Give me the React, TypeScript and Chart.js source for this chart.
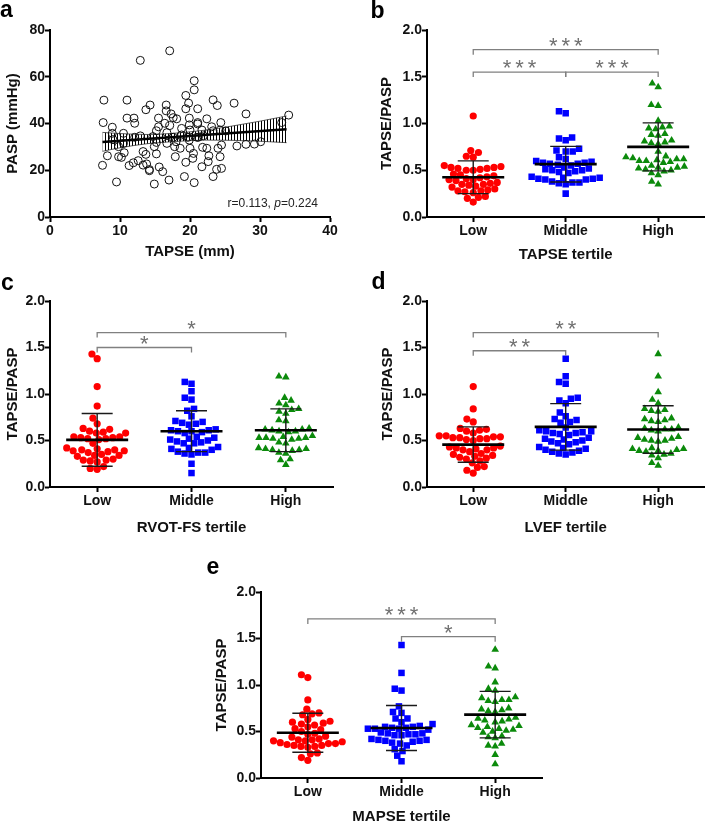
import React, { useEffect, useRef } from 'react';
import { Chart, registerables } from 'chart.js';
Chart.register(...registerables);

const FONT = '"Liberation Sans", Arial, Helvetica, sans-serif';
Chart.defaults.font.family = FONT;

// ---------- Panel a: TAPSE vs PASP ----------
const tapseMm = [17.1, 12.9, 7.7, 11.0, 19.4, 20.6, 20.6, 26.3, 23.3, 23.9,
  14.3, 16.6, 13.7, 19.8, 16.6, 21.1, 19.4, 28.0, 7.6, 11.0,
  12.0, 12.1, 15.5, 17.3, 17.6, 18.1, 19.9, 19.9, 21.1, 21.1,
  22.4, 24.4, 8.9, 16.4, 17.1, 15.5, 18.8, 20.0, 21.7, 23.1,
  23.3, 24.3, 25.1, 33.1, 34.1, 8.9, 10.5, 12.9, 14.7, 15.2,
  16.7, 17.6, 18.8, 19.7, 21.0, 21.9, 26.7, 28.0, 29.2, 30.1,
  9.0, 10.5, 12.1, 15.2, 16.7, 18.0, 19.9, 21.2, 21.8, 22.4,
  24.0, 24.5, 9.8, 10.6, 13.3, 14.9, 15.2, 17.8, 18.6, 20.0,
  20.5, 9.8, 10.2, 8.2, 13.7, 17.9, 20.4, 22.7, 24.3, 7.5,
  11.3, 11.9, 12.6, 13.3, 13.8, 14.2, 14.2, 15.6, 16.1, 19.4,
  21.7, 22.6, 23.8, 24.5, 9.5, 14.9, 17.0, 19.2, 20.6, 23.3];
const paspMmHg = [71.1, 67, 50, 50, 52, 58.3, 54.4, 48.7, 50.1, 47.7,
  47.9, 47.9, 45.9, 48.7, 45.4, 46.3, 46.3, 44.1, 40.4, 42.3,
  42.3, 40.1, 42.3, 44.1, 42.5, 42, 42.3, 39.4, 40.4, 39.8,
  42, 40.4, 38.4, 40.1, 39.1, 38.6, 37.9, 37.2, 37.2, 38.6,
  36.9, 37.2, 36.8, 40.4, 43.6, 35.8, 35.8, 34.7, 34.4, 36.9,
  36.1, 34.1, 35.1, 34.1, 34.1, 34.7, 30.4, 31.1, 31.2, 32.2,
  33.1, 31.5, 34.1, 31.9, 31.5, 32.2, 32.9, 34.1, 29.8, 29.4,
  29.4, 30.8, 30.1, 27.5, 28, 30.1, 27, 30.1, 29.4, 29.4,
  27.2, 25.8, 25.5, 26.2, 26.8, 25.8, 25.1, 26.2, 25.8, 22.1,
  22, 23.2, 24.1, 22.2, 22.7, 20.3, 19.8, 21.4, 19.4, 23.4,
  21.5, 23.7, 20.4, 20.8, 15, 14.1, 15.8, 17.3, 14.7, 17.3];
const fitX = [7.5, 33.8];
const fitY = [32.1, 37.5];
const bandX = [7.5, 10, 14, 18, 22, 26, 30, 33.8];
const bandUpper = [36.2, 35.7, 35.3, 35.9, 37.1, 38.9, 41.0, 43.2];
const bandLower = [28.1, 29.6, 31.4, 32.3, 32.9, 32.8, 32.4, 31.8];
const aXTicks = [0, 10, 20, 30, 40];
const aYTicks = [0, 20, 40, 60, 80];

// ---------- Tertile panels ----------
const tertileLabels = ['Low', 'Middle', 'High'];
const yTicksRatio = [0, 0.5, 1.0, 1.5, 2.0];

// b: TAPSE tertile
const bLow = [1.08, 0.71, 0.69, 0.65, 0.64, 0.55, 0.54, 0.53, 0.53, 0.52, 0.52, 0.51, 0.50, 0.50,
  0.46, 0.45, 0.44, 0.43, 0.42, 0.41, 0.40, 0.40, 0.39, 0.37, 0.36, 0.35, 0.35, 0.34, 0.33, 0.32,
  0.30, 0.29, 0.28, 0.28, 0.27, 0.26, 0.22, 0.21, 0.20, 0.16];
const bMiddle = [1.13, 1.11, 0.85, 0.84, 0.82, 0.73, 0.71, 0.70, 0.70, 0.64, 0.62,
  0.60, 0.59, 0.58, 0.58, 0.57, 0.57, 0.56, 0.55, 0.53, 0.52, 0.51, 0.50, 0.50, 0.49, 0.48, 0.47,
  0.43, 0.42, 0.42, 0.41, 0.41, 0.40, 0.40, 0.38, 0.37, 0.37, 0.36, 0.35, 0.25];
const bHigh = [1.43, 1.39, 1.20, 1.19, 1.03, 0.97, 0.96, 0.95, 0.94, 0.89, 0.88, 0.87,
  0.82, 0.81, 0.80, 0.79, 0.78, 0.70, 0.65, 0.64, 0.63, 0.62, 0.62, 0.61, 0.60, 0.60, 0.59, 0.58,
  0.55, 0.54, 0.53, 0.53, 0.52, 0.51, 0.50, 0.49, 0.47, 0.45, 0.38, 0.35];
const bMeans = [0.425, 0.565, 0.75];
const bSDs = [0.175, 0.19, 0.257];
const bBrackets = [[0, 2, 1.79, 3], [0, 1, 1.55, 3], [1, 2, 1.55, 3]];

// c: RVOT-FS tertile
const cLow = [1.43, 1.38, 1.08, 0.87, 0.74, 0.68, 0.63, 0.62, 0.60, 0.59, 0.58, 0.58,
  0.54, 0.54, 0.53, 0.53, 0.52, 0.52, 0.51, 0.47, 0.42, 0.41, 0.40, 0.40, 0.39, 0.39, 0.38, 0.37,
  0.35, 0.34, 0.34, 0.33, 0.30, 0.29, 0.29, 0.28, 0.27, 0.22, 0.20, 0.19];
const cMiddle = [1.13, 1.11, 1.03, 0.96, 0.94, 0.84, 0.82, 0.76, 0.71, 0.70, 0.69, 0.68, 0.67,
  0.62, 0.61, 0.61, 0.60, 0.60, 0.59, 0.58, 0.54, 0.53, 0.52, 0.51, 0.50, 0.49, 0.48, 0.47, 0.47,
  0.43, 0.42, 0.41, 0.40, 0.38, 0.37, 0.37, 0.36, 0.35, 0.25, 0.15];
const cHigh = [1.19, 1.18, 0.96, 0.93, 0.90, 0.88, 0.84, 0.83, 0.81, 0.79, 0.72, 0.71,
  0.63, 0.62, 0.62, 0.61, 0.60, 0.60, 0.59, 0.55, 0.54, 0.53, 0.53, 0.53, 0.52, 0.52, 0.51,
  0.48, 0.47, 0.42, 0.41, 0.41, 0.40, 0.40, 0.39, 0.37, 0.36, 0.30, 0.29, 0.24];
const cMeans = [0.507, 0.60, 0.61];
const cSDs = [0.284, 0.22, 0.23];
const cBrackets = [[0, 2, 1.66, 1], [0, 1, 1.50, 1]];

// d: LVEF tertile
const dLow = [1.08, 0.84, 0.73, 0.70, 0.63, 0.62, 0.61, 0.60, 0.58,
  0.55, 0.55, 0.54, 0.54, 0.53, 0.53, 0.52, 0.52, 0.51, 0.50,
  0.44, 0.43, 0.42, 0.42, 0.41, 0.40, 0.40, 0.38,
  0.36, 0.35, 0.34, 0.33, 0.32, 0.31, 0.30, 0.28, 0.26, 0.22, 0.21, 0.18, 0.15];
const dMiddle = [1.38, 1.19, 1.13, 1.11, 0.96, 0.95, 0.93, 0.90, 0.80, 0.76, 0.73, 0.72, 0.70, 0.69, 0.64,
  0.61, 0.60, 0.60, 0.59, 0.58, 0.58, 0.57, 0.56, 0.53, 0.52, 0.51, 0.50, 0.49, 0.48, 0.47, 0.46,
  0.43, 0.42, 0.41, 0.40, 0.39, 0.38, 0.37, 0.36, 0.35];
const dHigh = [1.43, 1.19, 1.02, 0.94, 0.90, 0.84, 0.83, 0.82, 0.81, 0.74, 0.73, 0.72, 0.71, 0.70,
  0.64, 0.63, 0.62, 0.62, 0.61, 0.60, 0.54, 0.53, 0.52, 0.51, 0.50, 0.50, 0.49,
  0.42, 0.41, 0.41, 0.40, 0.39, 0.39, 0.38, 0.36, 0.35, 0.34, 0.31, 0.26, 0.23];
const dMeans = [0.456, 0.646, 0.618];
const dSDs = [0.19, 0.25, 0.255];
const dBrackets = [[0, 2, 1.66, 2], [0, 1, 1.465, 2]];

// e: MAPSE tertile
const eLow = [1.11, 1.08, 0.84, 0.74, 0.70, 0.69, 0.68, 0.63, 0.61, 0.60, 0.59,
  0.58, 0.57, 0.55, 0.53, 0.52, 0.50, 0.48, 0.47, 0.45, 0.44,
  0.42, 0.41, 0.41, 0.40, 0.40, 0.39, 0.38, 0.37, 0.37, 0.36, 0.35, 0.35, 0.34, 0.34, 0.33,
  0.27, 0.26, 0.22, 0.19];
const eMiddle = [1.43, 1.13, 0.96, 0.94, 0.77, 0.71, 0.70, 0.64, 0.64, 0.60, 0.58,
  0.56, 0.55, 0.55, 0.54, 0.54, 0.53, 0.53, 0.53, 0.52, 0.49, 0.48, 0.48, 0.47, 0.47, 0.46, 0.46,
  0.42, 0.41, 0.41, 0.40, 0.40, 0.39, 0.38, 0.37, 0.35, 0.31, 0.29, 0.24, 0.18];
const eHigh = [1.38, 1.20, 1.18, 1.03, 0.96, 0.94, 0.87, 0.86, 0.84, 0.84, 0.83, 0.82,
  0.75, 0.74, 0.73, 0.72, 0.71, 0.65, 0.64, 0.63, 0.62, 0.61, 0.60,
  0.57, 0.56, 0.55, 0.54, 0.53, 0.52, 0.51, 0.50, 0.49, 0.45, 0.44, 0.43, 0.37, 0.35, 0.34, 0.25, 0.15];
const eMeans = [0.487, 0.538, 0.681];
const eSDs = [0.21, 0.242, 0.25];
const eBrackets = [[0, 2, 1.71, 3], [1, 2, 1.52, 1]];

// ---------- styling ----------
const groupColors = ['#ff0000', '#0000ff', '#0b8a0b'];
const groupStyles = ['circle', 'rect', 'triangle'];
const groupRadius = [3.6, 4.6, 4.4];
const tickFont = { family: FONT, size: 14, weight: 'bold' as const };
const titleFont = { family: FONT, size: 15, weight: 'bold' as const, lineHeight: 1 };

function swarm(values: number[], center: number, pxX: number, pxY: number, diam: number) {
  const order = values.map((_, i) => i).sort((a, b) => values[a] - values[b]);
  const placed: { x: number; y: number }[] = [];
  const out: { x: number; y: number }[] = new Array(values.length);
  for (const i of order) {
    const y = values[i] * pxY;
    const iv: [number, number][] = [];
    for (const p of placed) {
      const dy = Math.abs(p.y - y);
      if (dy < diam) {
        const dx = Math.sqrt(diam * diam - dy * dy);
        iv.push([p.x - dx, p.x + dx]);
      }
    }
    const cands = [0];
    iv.forEach(([a, b]) => cands.push(a, b));
    cands.sort((a, b) => Math.abs(a) - Math.abs(b) || a - b);
    let x = 0;
    for (const c of cands) {
      if (iv.every(([a, b]) => c <= a + 1e-6 || c >= b - 1e-6)) { x = c; break; }
    }
    placed.push({ x, y });
    out[i] = { x: center + x / pxX, y: values[i] };
  }
  return out;
}

function axisCommon() {
  return {
    grid: { drawOnChartArea: false, drawTicks: true, tickLength: 5, tickWidth: 2, tickColor: '#000' },
    border: { display: true, color: '#000', width: 2 },
  };
}

type DotCfg = {
  groups: number[][]; means: number[]; sds: number[]; brackets: number[][];
  letter: string; letterX: number; letterY: number; xTitle: string;
  w: number; h: number; top: number; right: number; yW: number; xH: number;
  yTitlePad: number; xTitlePad: number;
};

function drawStar(ctx: CanvasRenderingContext2D, cx: number, cy: number) {
  const m = ctx.measureText('*');
  const asc = m.actualBoundingBoxAscent, desc = m.actualBoundingBoxDescent;
  ctx.fillText('*', cx, cy + (asc - desc) / 2);
}

function buildDot(canvas: HTMLCanvasElement, p: DotCfg): any {
  const areaW = p.w - p.yW - p.right;
  const areaH = p.h - p.top - p.xH;
  const pxX = areaW / 3;
  const pxY = areaH / 2;
  const overlay = {
    id: 'dotOverlay',
    afterDatasetsDraw(chart: any) {
      const ctx = chart.ctx as CanvasRenderingContext2D;
      const xs = chart.scales.x, ys = chart.scales.y;
      ctx.save();
      p.means.forEach((m, g) => {
        const cx = xs.getPixelForValue(g);
        const my = ys.getPixelForValue(m);
        const t = ys.getPixelForValue(m + p.sds[g]);
        const b = ys.getPixelForValue(m - p.sds[g]);
        ctx.strokeStyle = '#1a1a1a';
        ctx.lineWidth = 1.4;
        ctx.beginPath();
        ctx.moveTo(cx, t); ctx.lineTo(cx, b);
        ctx.moveTo(cx - 15.5, t); ctx.lineTo(cx + 15.5, t);
        ctx.moveTo(cx - 15.5, b); ctx.lineTo(cx + 15.5, b);
        ctx.stroke();
        ctx.strokeStyle = '#000';
        ctx.lineWidth = 2.6;
        ctx.beginPath();
        ctx.moveTo(cx - 31, my); ctx.lineTo(cx + 31, my);
        ctx.stroke();
      });
      ctx.strokeStyle = '#808080';
      ctx.fillStyle = '#707070';
      ctx.lineWidth = 1.3;
      ctx.font = `22px ${FONT}`;
      ctx.textAlign = 'center';
      ctx.textBaseline = 'alphabetic';
      p.brackets.forEach(([from, to, yv, stars]) => {
        const x1 = xs.getPixelForValue(from), x2 = xs.getPixelForValue(to);
        const yy = ys.getPixelForValue(yv);
        ctx.beginPath();
        ctx.moveTo(x1, yy + 5); ctx.lineTo(x1, yy); ctx.lineTo(x2, yy); ctx.lineTo(x2, yy + 5);
        ctx.stroke();
        const mid = (x1 + x2) / 2;
        for (let k = 0; k < stars; k++) {
          drawStar(ctx, mid + (k - (stars - 1) / 2) * 12.5, yy - 8);
        }
      });
      ctx.fillStyle = '#000';
      ctx.textAlign = 'left';
      ctx.font = `bold 23px ${FONT}`;
      ctx.fillText(p.letter, p.letterX, p.letterY);
      ctx.restore();
    },
  };
  return {
    type: 'scatter',
    data: {
      datasets: p.groups.map((vals, g) => ({
        data: swarm(vals, g, pxX, pxY, 7),
        pointStyle: groupStyles[g],
        pointRadius: groupRadius[g],
        pointBackgroundColor: groupColors[g],
        pointBorderColor: groupColors[g],
        pointBorderWidth: 0,
      })),
    },
    options: {
      animation: false,
      responsive: false,
      devicePixelRatio: 1,
      events: [],
      layout: { padding: { left: 0, top: p.top, right: p.right, bottom: 0 } },
      plugins: { legend: { display: false }, tooltip: { enabled: false } },
      scales: {
        x: {
          type: 'linear', min: -0.5, max: 2.5,
          afterBuildTicks: (s: any) => { s.ticks = [0, 1, 2].map((v) => ({ value: v })); },
          afterFit: (s: any) => { s.height = p.xH; },
          ticks: { callback: (v: number) => tertileLabels[v], font: tickFont, color: '#111', padding: 1, maxRotation: 0 },
          title: { display: true, text: p.xTitle, font: titleFont, color: '#111', padding: { top: 0, bottom: p.xTitlePad } },
          ...axisCommon(),
        },
        y: {
          type: 'linear', min: 0, max: 2,
          afterBuildTicks: (s: any) => { s.ticks = yTicksRatio.map((v) => ({ value: v })); },
          afterFit: (s: any) => { s.width = p.yW; },
          ticks: { callback: (v: number) => v.toFixed(1), font: tickFont, color: '#111', padding: 0 },
          title: { display: true, text: 'TAPSE/PASP', font: titleFont, color: '#111', padding: { top: p.yTitlePad, bottom: 0 } },
          ...axisCommon(),
        },
      },
    },
    plugins: [overlay],
  };
}

function buildA(canvas: HTMLCanvasElement): any {
  const ctx = canvas.getContext('2d')!;
  const pc = document.createElement('canvas');
  pc.width = 3; pc.height = 4;
  const pctx = pc.getContext('2d')!;
  pctx.fillStyle = '#000';
  pctx.fillRect(0, 0, 1, 4);
  const pattern = ctx.createPattern(pc, 'repeat');
  const overlay = {
    id: 'aOverlay',
    afterDraw(chart: any) {
      const c = chart.ctx as CanvasRenderingContext2D;
      c.save();
      c.fillStyle = '#000';
      c.textAlign = 'left';
      c.textBaseline = 'alphabetic';
      c.font = `bold 23px ${FONT}`;
      c.fillText('a', 0, 17);
      const parts: [string, boolean][] = [['r=0.113, ', false], ['p', true], ['=0.224', false]];
      c.fillStyle = '#222';
      c.textBaseline = 'middle';
      let x = 318;
      const widths = parts.map(([t, it]) => { c.font = `${it ? 'italic ' : ''}12px ${FONT}`; return c.measureText(t).width; });
      x -= widths.reduce((a, b) => a + b, 0);
      parts.forEach(([t, it], i) => {
        c.font = `${it ? 'italic ' : ''}12px ${FONT}`;
        c.fillText(t, x, 204);
        x += widths[i];
      });
      c.restore();
    },
  };
  return {
    type: 'scatter',
    data: {
      datasets: [
        {
          data: tapseMm.map((x, i) => ({ x, y: paspMmHg[i] })),
          pointStyle: 'circle', pointRadius: 4, pointBorderWidth: 1,
          pointBorderColor: '#111', pointBackgroundColor: 'rgba(0,0,0,0)', order: 0,
        },
        {
          type: 'line', data: fitX.map((x, i) => ({ x, y: fitY[i] })),
          borderColor: '#000', borderWidth: 2.5, pointRadius: 0, fill: false, order: 1,
        },
        {
          type: 'line', data: bandX.map((x, i) => ({ x, y: bandUpper[i] })),
          borderColor: '#333', borderWidth: 0.8, pointRadius: 0, fill: '+1',
          backgroundColor: pattern, cubicInterpolationMode: 'monotone', order: 2,
        },
        {
          type: 'line', data: bandX.map((x, i) => ({ x, y: bandLower[i] })),
          borderColor: '#333', borderWidth: 0.8, pointRadius: 0, fill: false,
          cubicInterpolationMode: 'monotone', order: 3,
        },
      ],
    },
    options: {
      animation: false,
      responsive: false,
      devicePixelRatio: 1,
      events: [],
      layout: { padding: { left: 0, top: 30, right: 20, bottom: 0 } },
      plugins: { legend: { display: false }, tooltip: { enabled: false } },
      scales: {
        x: {
          type: 'linear', min: 0, max: 40,
          afterBuildTicks: (s: any) => { s.ticks = aXTicks.map((v) => ({ value: v })); },
          afterFit: (s: any) => { s.height = 45; },
          ticks: { font: tickFont, color: '#111', padding: 1, maxRotation: 0 },
          title: { display: true, text: 'TAPSE (mm)', font: titleFont, color: '#111', padding: { top: 0, bottom: 2.5 } },
          ...axisCommon(),
        },
        y: {
          type: 'linear', min: 0, max: 80,
          afterBuildTicks: (s: any) => { s.ticks = aYTicks.map((v) => ({ value: v })); },
          afterFit: (s: any) => { s.width = 50; },
          ticks: { font: tickFont, color: '#111', padding: 0 },
          title: { display: true, text: 'PASP (mmHg)', font: titleFont, color: '#111', padding: { top: 5.5, bottom: 0 } },
          ...axisCommon(),
        },
      },
    },
    plugins: [overlay],
  };
}

function Panel(props: { left: number; top: number; width: number; height: number; build: (c: HTMLCanvasElement) => any }) {
  const ref = useRef<HTMLCanvasElement>(null);
  useEffect(() => {
    const chart = new Chart(ref.current!, props.build(ref.current!));
    return () => chart.destroy();
  }, []);
  return (
    <canvas
      ref={ref}
      width={props.width}
      height={props.height}
      style={{ position: 'absolute', left: props.left, top: props.top, width: props.width, height: props.height }}
    />
  );
}

const panelB: DotCfg = {
  groups: [bLow, bMiddle, bHigh], means: bMeans, sds: bSDs, brackets: bBrackets,
  letter: 'b', letterX: 20.5, letterY: 18, xTitle: 'TAPSE tertile',
  w: 359, h: 265, top: 30, right: 4, yW: 77, xH: 48, yTitlePad: 29.5, xTitlePad: 2.5,
};
const panelC: DotCfg = {
  groups: [cLow, cMiddle, cHigh], means: cMeans, sds: cSDs, brackets: cBrackets,
  letter: 'c', letterX: 1, letterY: 25, xTitle: 'RVOT-FS tertile',
  w: 350, h: 273, top: 36, right: 17, yW: 50, xH: 51, yTitlePad: 5.5, xTitlePad: 2.5,
};
const panelD: DotCfg = {
  groups: [dLow, dMiddle, dHigh], means: dMeans, sds: dSDs, brackets: dBrackets,
  letter: 'd', letterX: 21.5, letterY: 23.5, xTitle: 'LVEF tertile',
  w: 359, h: 273, top: 36, right: 1, yW: 77, xH: 51, yTitlePad: 30.5, xTitlePad: 2.5,
};
const panelE: DotCfg = {
  groups: [eLow, eMiddle, eHigh], means: eMeans, sds: eSDs, brackets: eBrackets,
  letter: 'e', letterX: 16.5, letterY: 35.5, xTitle: 'MAPSE tertile',
  w: 360, h: 287, top: 54, right: 8, yW: 71, xH: 47, yTitlePad: 24.5, xTitlePad: 0.5,
};

export default function App() {
  return (
    <div style={{ position: 'absolute', left: 0, top: 0, width: 709, height: 825, background: '#fff', overflow: 'hidden' }}>
      <Panel left={0} top={0} width={350} height={262} build={buildA} />
      <Panel left={350} top={0} width={359} height={265} build={(c) => buildDot(c, panelB)} />
      <Panel left={0} top={265} width={350} height={273} build={(c) => buildDot(c, panelC)} />
      <Panel left={350} top={265} width={359} height={273} build={(c) => buildDot(c, panelD)} />
      <Panel left={190} top={538} width={360} height={287} build={(c) => buildDot(c, panelE)} />
    </div>
  );
}
